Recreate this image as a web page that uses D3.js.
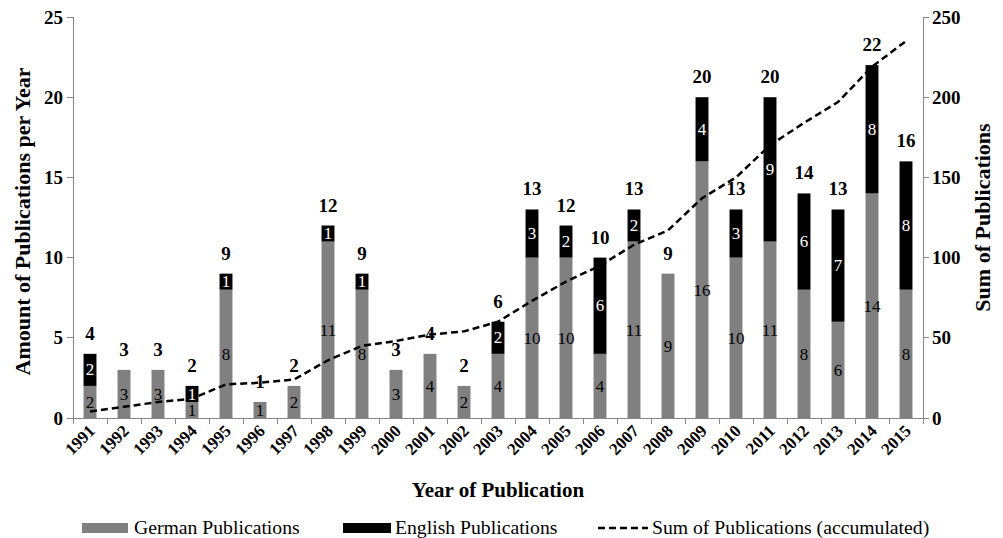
<!DOCTYPE html>
<html>
<head>
<meta charset="utf-8">
<script src="https://cdn.jsdelivr.net/npm/d3@7"></script>
<style>
  body { margin: 0; background: #fff; font-family: "Liberation Serif", Tinos, serif; }
</style>
</head>
<body>
<div id="chart"></div>
<script>
const years = ["1991", "1992", "1993", "1994", "1995", "1996", "1997", "1998", "1999", "2000",
  "2001", "2002", "2003", "2004", "2005", "2006", "2007", "2008", "2009", "2010",
  "2011", "2012", "2013", "2014", "2015"];
const german = [2, 3, 3, 1, 8, 1, 2, 11, 8, 3, 4, 2, 4, 10, 10, 4, 11, 9, 16, 10, 11, 8, 6, 14, 8];
const english = [2, 0, 0, 1, 1, 0, 0, 1, 1, 0, 0, 0, 2, 3, 2, 6, 2, 0, 4, 3, 9, 6, 7, 8, 8];
const accumulated = [4, 7, 10, 12, 21, 22, 24, 36, 45, 48, 52, 54, 60, 73, 85, 95, 108, 117, 137, 150, 170, 184, 197, 219, 235];
const leftTicks = [0, 5, 10, 15, 20, 25];
const rightTicks = [0, 50, 100, 150, 200, 250];

const width = 1003, height = 538;
const plotLeft = 73, plotRight = 923, plotTop = 17, plotBottom = 418;
const gray = "#808080", axisColor = "#868686";

const svg = d3.select("#chart").append("svg")
  .attr("width", width)
  .attr("height", height)
  .attr("font-family", "Tinos");

// every label goes through here so the font is set on the text itself
function label(parent, txt, size, weight) {
  return parent.append("text")
    .style("font-family", '"Tinos"')
    .style("font-size", size + "px")
    .style("font-weight", weight || "normal")
    .text(txt);
}

const x = d3.scaleBand().domain(years).range([plotLeft, plotRight])
  .paddingInner(0.62).paddingOuter(0.31);
const y = d3.scaleLinear().domain([0, 25]).range([plotBottom, plotTop]);
const y2 = d3.scaleLinear().domain([0, 250]).range([plotBottom, plotTop]);
const cx = d => x(d) + x.bandwidth() / 2;

const rows = years.map((yr, i) => ({ year: yr, de: german[i], en: english[i], sum: accumulated[i] }));

// bars
const bars = svg.append("g");
bars.selectAll("rect.de").data(rows).join("rect")
  .attr("x", d => x(d.year))
  .attr("width", x.bandwidth())
  .attr("y", d => y(d.de))
  .attr("height", d => y(0) - y(d.de))
  .attr("fill", gray);
bars.selectAll("rect.en").data(rows.filter(d => d.en > 0)).join("rect")
  .attr("x", d => x(d.year))
  .attr("width", x.bandwidth())
  .attr("y", d => y(d.de + d.en))
  .attr("height", d => y(d.de) - y(d.de + d.en))
  .attr("fill", "#000");

// axes
const axes = svg.append("g").attr("stroke", axisColor).attr("stroke-width", 1).attr("shape-rendering", "crispEdges");
axes.append("line").attr("x1", plotLeft).attr("x2", plotLeft).attr("y1", y(25)).attr("y2", y(0));
axes.append("line").attr("x1", plotRight).attr("x2", plotRight).attr("y1", y2(250)).attr("y2", y2(0));
axes.append("line").attr("x1", plotLeft).attr("x2", plotRight).attr("y1", y(0)).attr("y2", y(0));
axes.selectAll("line.lt").data(leftTicks).join("line")
  .attr("x1", plotLeft - 6).attr("x2", plotLeft).attr("y1", d => y(d)).attr("y2", d => y(d));
axes.selectAll("line.rt").data(rightTicks).join("line")
  .attr("x1", plotRight).attr("x2", plotRight + 6).attr("y1", d => y2(d)).attr("y2", d => y2(d));
// category boundaries
const xTickPos = years.map(yr => cx(yr) - x.step() / 2).concat([plotRight]);
axes.selectAll("line.xt").data(xTickPos).join("line")
  .attr("x1", d => d).attr("x2", d => d).attr("y1", y(0)).attr("y2", y(0) + 6);

const tickText = svg.append("g");
leftTicks.forEach(t => {
  label(tickText, t, 19, "bold")
    .attr("x", plotLeft - 10).attr("y", y(t)).attr("dy", "0.35em")
    .attr("text-anchor", "end");
});
rightTicks.forEach(t => {
  label(tickText, t, 19, "bold")
    .attr("x", plotRight + 9).attr("y", y2(t)).attr("dy", "0.35em")
    .attr("text-anchor", "start");
});
years.forEach(yr => {
  label(tickText, yr, 17, "bold")
    .attr("transform", `translate(${cx(yr) + 6},${y(0) + 14}) rotate(-45)`)
    .attr("text-anchor", "end");
});

// axis titles
label(svg, "Amount of Publications per Year", 22, "bold")
  .attr("transform", `translate(30,${(y(0) + y(25)) / 2 + 4}) rotate(-90)`)
  .attr("text-anchor", "middle");
label(svg, "Sum of Publications", 22, "bold")
  .attr("transform", `translate(990,${(y(0) + y(25)) / 2}) rotate(-90)`)
  .attr("text-anchor", "middle");
label(svg, "Year of Publication", 21, "bold")
  .attr("x", (plotLeft + plotRight) / 2).attr("y", 497)
  .attr("text-anchor", "middle");

// cumulative line
svg.append("path")
  .datum(rows)
  .attr("fill", "none").attr("stroke", "#000").attr("stroke-width", 2.5)
  .attr("stroke-dasharray", "7,4")
  .attr("d", d3.line().x(d => cx(d.year)).y(d => y2(d.sum)));

// data labels
const labels = svg.append("g");
rows.forEach(d => {
  label(labels, d.de, 17)
    .attr("x", cx(d.year)).attr("y", (y(0) + y(d.de)) / 2).attr("dy", "0.35em")
    .attr("text-anchor", "middle").attr("fill", "#000");
  if (d.en > 0) {
    label(labels, d.en, 17)
      .attr("x", cx(d.year)).attr("y", (y(d.de) + y(d.de + d.en)) / 2).attr("dy", "0.33em")
      .attr("text-anchor", "middle").attr("fill", "#fff");
  }
  label(labels, d.de + d.en, 19, "bold")
    .attr("x", cx(d.year)).attr("y", y(d.de + d.en) - 14)
    .attr("text-anchor", "middle");
});

// legend
const lg = svg.append("g");
lg.append("rect").attr("x", 82).attr("y", 523).attr("width", 46).attr("height", 10).attr("fill", gray);
label(lg, "German Publications", 19.7).attr("x", 134).attr("y", 534);
lg.append("rect").attr("x", 343).attr("y", 523).attr("width", 48).attr("height", 10).attr("fill", "#000");
label(lg, "English Publications", 19.7).attr("x", 395).attr("y", 534);
lg.append("line").attr("x1", 598).attr("x2", 648).attr("y1", 528).attr("y2", 528)
  .attr("stroke", "#000").attr("stroke-width", 2.5).attr("stroke-dasharray", "7,4");
label(lg, "Sum of Publications (accumulated)", 19.7).attr("x", 652).attr("y", 534);
</script>
</body>
</html>
